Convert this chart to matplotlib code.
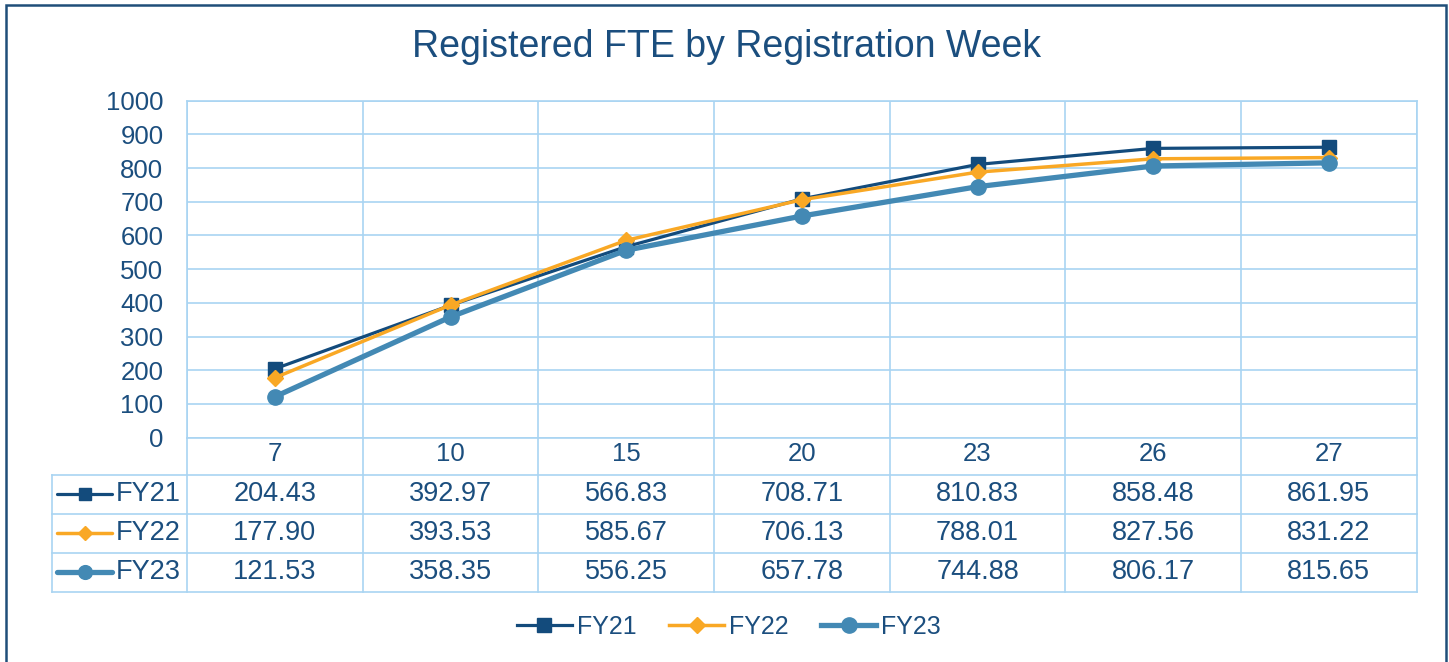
import matplotlib
matplotlib.use("Agg")
import matplotlib.pyplot as plt
from matplotlib.patches import Rectangle

# data
weeks = ["7", "10", "15", "20", "23", "26", "27"]
fy21 = [204.43, 392.97, 566.83, 708.71, 810.83, 858.48, 861.95]
fy22 = [177.90, 393.53, 585.67, 706.13, 788.01, 827.56, 831.22]
fy23 = [121.53, 358.35, 556.25, 657.78, 744.88, 806.17, 815.65]
series_names = ["FY21", "FY22", "FY23"]

# styles
text_col = "#1B4E7E"
grid_col = "#A9D4F2"
colors = ["#134B7C", "#F9A825", "#4389B4"]
markers = ["s", "D", "o"]
msizes = [10, 8, 11]
lwidths = [2.3, 2.5, 3.8]

plt.rcParams["font.family"] = ["Liberation Sans", "DejaVu Sans"]

W, H = 1449, 662
fig = plt.figure(figsize=(W / 100, H / 100), dpi=100)

# pixel layout
px_left, px_right = 187, 1416.7
px_top, px_bottom = 100.7, 437.7
tab_left = 52
hdr_bottom = 475
tab_bottom = 591.7

ax = fig.add_axes([px_left / W, 1 - px_bottom / H,
                   (px_right - px_left) / W, (px_bottom - px_top) / H])
x = list(range(len(weeks)))
all_series = [fy21, fy22, fy23]
lines = []
for vals, name, c, m, ms, lw in zip(all_series, series_names, colors, markers, msizes, lwidths):
    ln, = ax.plot(x, vals, color=c, marker=m, markersize=ms, lw=lw, label=name,
                  solid_joinstyle="round", zorder=3)
    lines.append(ln)

ax.set_xlim(-0.5, len(weeks) - 0.5)
ax.set_ylim(0, 1000)
ax.set_yticks(range(0, 1001, 100))
ax.set_xticks(x)
ax.set_xticklabels(weeks)
ax.set_xticks([i - 0.5 for i in range(len(weeks) + 1)], minor=True)
ax.tick_params(axis="both", length=0, labelsize=18.5, labelcolor=text_col)
ax.tick_params(axis="y", pad=17)
ax.tick_params(axis="x", pad=3)
ax.tick_params(axis="x", which="minor", length=0)
ax.grid(axis="y", color=grid_col, lw=1.2)
ax.grid(axis="x", which="minor", color=grid_col, lw=1.2)
ax.set_axisbelow(True)
for s in ax.spines.values():
    s.set_color(grid_col)
    s.set_linewidth(1.2)

# data table below the axis
unit_px = (px_right - px_left) / len(weeks)
x_lo = -0.5 - (px_left - tab_left) / unit_px
tab = fig.add_axes([tab_left / W, 1 - tab_bottom / H,
                    (px_right - tab_left) / W, (tab_bottom - hdr_bottom) / H])
tab.set_xlim(x_lo, len(weeks) - 0.5)
tab.set_ylim(3, 0)
tab.axis("off")
row_px = (tab_bottom - hdr_bottom) / 3
hdr_top = -(hdr_bottom - px_bottom) / row_px
for r in range(4):
    tab.plot([x_lo, len(weeks) - 0.5], [r, r], color=grid_col, lw=1.2, clip_on=False)
tab.plot([x_lo, x_lo], [0, 3], color=grid_col, lw=1.2, clip_on=False)
for i in range(len(weeks) + 1):
    tab.plot([i - 0.5, i - 0.5], [hdr_top, 3], color=grid_col, lw=1.2, clip_on=False)

for r, (vals, name, c, m, ms, lw) in enumerate(zip(all_series, series_names, colors, markers, msizes, lwidths)):
    yc = r + 0.5
    for i, v in enumerate(vals):
        tab.text(i, yc, "%.2f" % v, ha="center", va="center", fontsize=19.5, color=text_col)
    k0 = x_lo + 5 / unit_px
    k1 = x_lo + 60 / unit_px
    tab.plot([k0, (k0 + k1) / 2, k1], [yc] * 3, color=c, marker=m, markersize=ms * 0.9,
             lw=lw, markevery=[1], solid_capstyle="round", clip_on=False)
    tab.text(x_lo + 64 / unit_px, yc, name, ha="left", va="center", fontsize=19.5, color=text_col)

# title
fig.text(727 / W, 1 - 47 / H, "Registered FTE by Registration Week",
         ha="center", va="center", fontsize=27, color=text_col)

# legend
leg = fig.legend(handles=lines, loc="center", bbox_to_anchor=(729 / W, 1 - 627 / H),
                 ncol=3, frameon=False, fontsize=18, handlelength=2.2,
                 handletextpad=0.2, columnspacing=1.3, labelcolor=text_col)

# outer border
fig.add_artist(Rectangle((6 / W, -0.05), (1445.5 - 6) / W, 1.05 - 5 / H,
                         transform=fig.transFigure, fill=False,
                         edgecolor="#1F4E79", lw=1.8))

fig.savefig("out.png", dpi=100)
